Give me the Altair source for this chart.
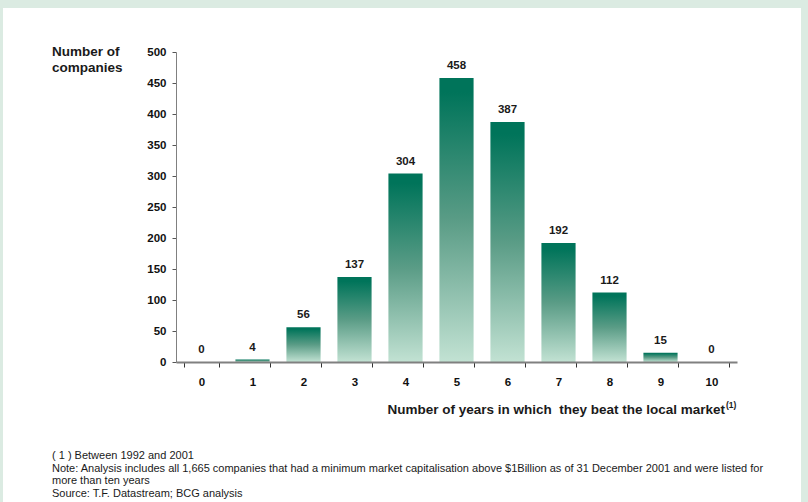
import altair as alt
import pandas as pd

# ---- data ----
years = [str(i) for i in range(11)]
companies = [0, 4, 56, 137, 304, 458, 387, 192, 112, 15, 0]
y_ticks = [0, 50, 100, 150, 200, 250, 300, 350, 400, 450, 500]
y_title_lines = ["Number of", "companies"]
x_title = "Number of years in which\u00a0 they beat the local market"
x_title_sup = "(1)"
footnotes = [
    "( 1 ) Between 1992 and 2001",
    "Note: Analysis includes all 1,665 companies that had a minimum market capitalisation above $1Billion as of 31 December 2001 and were listed for",
    "more than ten years",
    "Source: T.F. Datastream; BCG analysis",
]

df = pd.DataFrame({"years": years, "companies": companies})

W, H = 561, 310
L, T = 176, 52
FONT = "Liberation Sans"

grad = alt.Gradient(
    gradient="linear",
    stops=[
        alt.GradientStop(color="#00745a", offset=0),
        alt.GradientStop(color="#00745a", offset=0.05),
        alt.GradientStop(color="#5a9c86", offset=0.5),
        alt.GradientStop(color="#c2e2d3", offset=1),
    ],
    x1=0, x2=0, y1=0, y2=1,
)

x_enc = alt.X(
    "years:N", sort=years,
    scale=alt.Scale(paddingInner=0.33, paddingOuter=0.165),
    axis=alt.Axis(
        title=None, labelAngle=0, tickBand="extent", zindex=2,
        labelFont=FONT, labelFontWeight="bold", labelFontSize=11.5, labelColor="#111111",
        labelPadding=9, tickSize=5, tickColor="#333333", tickWidth=1,
        domainColor="#808080", domainWidth=2, grid=False,
    ),
)
y_enc = alt.Y(
    "companies:Q",
    scale=alt.Scale(domain=[0, 500], nice=False),
    axis=alt.Axis(
        title=None, values=y_ticks, zindex=2,
        labelFont=FONT, labelFontWeight="bold", labelFontSize=11.5, labelColor="#111111",
        labelPadding=6, tickSize=4, tickColor="#555555", tickWidth=1,
        domainColor="#808080", domainWidth=1, grid=False,
    ),
)

one = pd.DataFrame({"k": [0]})

bg = alt.Chart(one).mark_rect(color="white").encode(
    x=alt.value(3 - L), x2=alt.value(801 - L),
    y=alt.value(8 - T), y2=alt.value(502 - T + 10),
)

bars = alt.Chart(df).mark_bar(color=grad).encode(x=x_enc, y=y_enc)

labels = alt.Chart(df).mark_text(
    font=FONT, fontWeight="bold", fontSize=11.5, color="#1a1a1a",
    baseline="bottom", dy=-7,
).encode(x=alt.X("years:N", sort=years), y="companies:Q", text="companies:Q")

ytitle_df = pd.DataFrame({"t": y_title_lines, "i": [0, 1]})
ytitle = alt.Chart(ytitle_df).mark_text(
    font=FONT, fontWeight="bold", fontSize=13.5, color="#1a1a1a",
    align="left", baseline="middle",
).encode(
    x=alt.value(52 - L),
    y=alt.Y("i:Q", scale=alt.Scale(domain=[0, 1], range=[0, 16]), axis=None),
    text="t:N",
)

xtitle = alt.Chart(pd.DataFrame({"t": [x_title]})).mark_text(
    font=FONT, fontWeight="bold", fontSize=13.5, color="#1a1a1a",
    align="right", baseline="middle",
).encode(x=alt.value(725 - L), y=alt.value(410 - T), text="t:N")

xsup = alt.Chart(pd.DataFrame({"t": [x_title_sup]})).mark_text(
    font=FONT, fontWeight="bold", fontSize=8.5, color="#1a1a1a",
    align="left", baseline="middle",
).encode(x=alt.value(726 - L), y=alt.value(405 - T), text="t:N")

foot_df = pd.DataFrame({"t": footnotes, "i": [0, 1, 2, 3]})
foot = alt.Chart(foot_df).mark_text(
    font=FONT, fontSize=11, color="#1a1a1a",
    align="left", baseline="middle",
).encode(
    x=alt.value(52 - L),
    y=alt.Y("i:Q", scale=alt.Scale(domain=[0, 3], range=[456 - T, 494 - T]), axis=None),
    text="t:N",
)

chart = alt.layer(bg, bars, labels, ytitle, xtitle, xsup, foot).resolve_scale(
    y="independent"
).properties(
    width=W, height=H,
    autosize=alt.AutoSizeParams(type="none"),
    padding={"left": L, "top": T, "right": 808 - L - W, "bottom": 502 - T - H},
    background="#dbebe2",
).configure_view(stroke=None)

chart.save("out.html", embed_options={"renderer": "svg", "actions": False})
